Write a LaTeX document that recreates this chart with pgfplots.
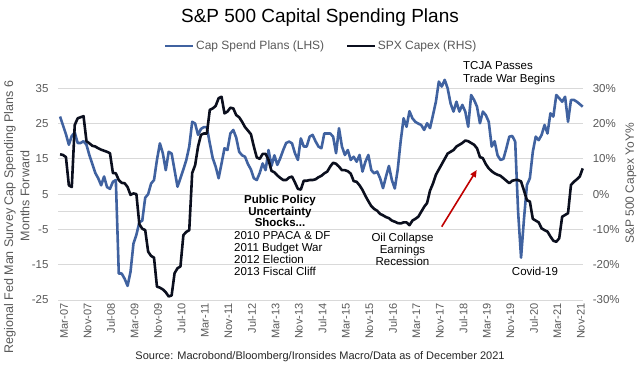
\documentclass[border=0pt]{standalone}
\usepackage{pgfplots}
\pgfplotsset{compat=1.18}
\usepackage{fontspec}
\setmainfont{Liberation Sans}
\usetikzlibrary{arrows.meta}
\definecolor{bluec}{HTML}{4062A0}
\definecolor{blackc}{HTML}{0B0F1E}
\definecolor{gridc}{HTML}{D9D9D9}
\definecolor{tickc}{HTML}{595959}
\definecolor{arrowc}{HTML}{C00000}
\begin{document}
\begin{tikzpicture}[x=1pt,y=1pt]
\useasboundingbox (0pt,0pt) rectangle (637pt,368pt);
\begin{axis}[
  at={(58pt,68pt)}, anchor=south west, scale only axis,
  width=525.3pt, height=211.7pt, clip=false,
  xmin=-0.7, xmax=178.2, ymin=-25, ymax=35,
  axis line style={draw=none}, major tick length=0pt,
  ytick={-25,-15,...,35},
  ymajorgrids, grid style={draw=gridc, line width=0.8pt},
  extra y ticks={0}, extra y tick labels={}, extra y tick style={grid=major},
  xtick={0,8,...,176},
  xticklabels={Mar-07,Nov-07,Jul-08,Mar-09,Nov-09,Jul-10,Mar-11,Nov-11,Jul-12,Mar-13,Nov-13,Jul-14,Mar-15,Nov-15,Jul-16,Mar-17,Nov-17,Jul-18,Mar-19,Nov-19,Jul-20,Mar-21,Nov-21},
  xticklabel style={rotate=90, anchor=east, font=\fontsize{11}{13}\selectfont, text=tickc, yshift=-4pt},
  yticklabel style={font=\fontsize{11.5}{13}\selectfont, text=tickc, xshift=-6pt},
  /pgf/number format/assume math mode=true,
  legend style={at={(axis description cs:0.5007,1.2)}, anchor=center, draw=none, fill=none,
    legend columns=2, font=\fontsize{12}{14}\selectfont, text=tickc,
    /tikz/every even column/.append style={column sep=20pt},
    nodes={inner sep=1.5pt}},
  legend image code/.code={\draw[#1, line width=2.6pt] (0pt,0pt) -- (28pt,0pt);},
]
\addplot[bluec, line width=2.6pt, line join=round] coordinates {
(0,27) (1,24.5) (2,22) (3,19) (4,21.5) (5,22.5) (6,19.5) (7,19.5) (8,20) (9,19)
(10,16) (11,13.5) (12,11) (13,9.5) (14,7.5) (15,10) (16,7) (17,6.5) (18,8.5) (19,9)
(20,-17.5) (21,-17.5) (22,-19) (23,-21) (24,-17) (25,-9) (26,-6.5) (27,-3) (28,-2.5) (29,4)
(30,5) (31,8) (32,9) (33,14.7) (34,19.4) (35,16.6) (36,11.8) (37,17) (38,16.5) (39,11.8)
(40,7.1) (41,9.5) (42,12) (43,14.7) (44,18.5) (45,25.5) (46,25) (47,21.8) (48,23.5) (49,24)
(50,24) (51,19.4) (52,15.2) (53,12.8) (54,9.5) (55,13.7) (56,18) (57,17.5) (58,22.2) (59,23.2)
(60,21) (61,17) (62,16) (63,15.6) (64,13.5) (65,12) (66,9.5) (67,9) (68,11) (69,13.7)
(70,11.8) (71,17.5) (72,13) (73,16) (74,13.3) (75,15.2) (76,17.5) (77,19.5) (78,19.9) (79,19.4)
(80,16.6) (81,14.7) (82,20.8) (83,18.5) (84,18.5) (85,21.3) (86,21.8) (87,20) (88,18.5) (89,18)
(90,22.2) (91,22.2) (92,22.2) (93,21.3) (94,16.6) (95,23.7) (96,18.5) (97,16.1) (98,17.5) (99,14.7)
(100,15.6) (101,14.2) (102,16.1) (103,11.4) (104,14.2) (105,16.1) (106,11.8) (107,10.9) (108,11.4) (109,9.5)
(110,6.7) (111,10) (112,13) (113,9) (114,6.6) (115,12) (116,20) (117,26.5) (118,24.1) (119,28.5)
(120,26.5) (121,25.5) (122,25) (123,24.6) (124,23.2) (125,25.1) (126,23.7) (127,27.4) (128,31.2) (129,36.9)
(130,35.5) (131,37.4) (132,35) (133,30.7) (134,28.4) (135,31.2) (136,28.4) (137,30.3) (138,28.4) (139,24.1)
(140,33.1) (141,31.7) (142,29.8) (143,25.1) (144,28.4) (145,27.4) (146,25.5) (147,18.5) (148,20) (149,16)
(150,14.7) (151,15) (152,18) (153,21.3) (154,21.5) (155,19.9) (156,0) (157,-13) (158,-2) (159,7.6)
(160,9.5) (161,17) (162,21.3) (163,20.3) (164,21.8) (165,24.6) (166,22.2) (167,27.9) (168,27) (169,33.1)
(170,32.2) (171,31.2) (172,32.6) (173,25.5) (174,31.7) (175,31.7) (176,31.2) (177,30.5) (178,29.8)
};
\addlegendentry{Cap Spend Plans (LHS)}
\addlegendimage{blackc}
\addlegendentry{SPX Capex (RHS)}
\end{axis}
\begin{axis}[
  at={(58pt,68pt)}, anchor=south west, scale only axis,
  width=525.3pt, height=211.7pt, clip=false,
  xmin=-0.7, xmax=178.2, ymin=-30, ymax=30,
  axis x line=none, axis y line*=right,
  axis line style={draw=none}, major tick length=0pt,
  ytick={-30,-20,...,30},
  yticklabel={\pgfmathprintnumber{\tick}\%},
  yticklabel style={font=\fontsize{11.5}{13}\selectfont, text=tickc, xshift=6pt},
  /pgf/number format/assume math mode=true,
]
\addplot[blackc, line width=2.6pt, line join=round] coordinates {
(0,11.3) (1,11.1) (2,10.5) (3,2.5) (4,2) (5,19.6) (6,21.5) (7,21.8) (8,22.1) (9,15)
(10,14.4) (11,13.7) (12,13.5) (13,13) (14,12.6) (15,12.3) (16,12) (17,11.6) (18,6) (19,5.9)
(20,4) (21,3.2) (22,3.1) (23,2) (24,-0.2) (25,0.2) (26,0) (27,-8.5) (28,-9.8) (29,-10.2)
(30,-16.3) (31,-17.5) (32,-18) (33,-26.2) (34,-26.5) (35,-27) (36,-27.8) (37,-29) (38,-28.7) (39,-22.4)
(40,-21) (41,-20.5) (42,-11.6) (43,-10.7) (44,-10.2) (45,6) (46,8.2) (47,13.5) (48,16.8) (49,17.2)
(50,17.2) (51,23.9) (52,24.3) (53,25) (54,27.2) (55,27.6) (56,22.9) (57,23.4) (58,24.5) (59,24.3)
(60,22.4) (61,21.8) (62,20.5) (63,19) (64,18) (65,17) (66,13.5) (67,10.4) (68,10) (69,11.4)
(70,11.4) (71,9.7) (72,6.6) (73,6.2) (74,5.3) (75,4.6) (76,4) (77,4) (78,4.7) (79,5)
(80,3.3) (81,1.5) (82,1.3) (83,3.8) (84,3.8) (85,4) (86,4) (87,4.2) (88,4.8) (89,5.2)
(90,5.9) (91,6.4) (92,7.8) (93,8.9) (94,8.6) (95,7.8) (96,6.8) (97,6.8) (98,6.5) (99,5.8)
(100,3.7) (101,3.5) (102,2.5) (103,1.2) (104,-0.5) (105,-2) (106,-3.4) (107,-4.2) (108,-4.7) (109,-5.6)
(110,-6) (111,-6.5) (112,-6.8) (113,-7.5) (114,-7.8) (115,-8.2) (116,-8.3) (117,-8) (118,-8) (119,-8.8)
(120,-7.5) (121,-7) (122,-6.4) (123,-5) (124,-3.6) (125,-2.5) (126,1) (127,3) (128,5.5) (129,7)
(130,8.5) (131,10) (132,11.5) (133,12) (134,12.5) (135,13.5) (136,14) (137,14.5) (138,15.2) (139,15)
(140,14.5) (141,14) (142,13) (143,10.5) (144,10.2) (145,8.5) (146,7.3) (147,6.5) (148,5.9) (149,5.5)
(150,5.2) (151,4.5) (152,3.8) (153,3.1) (154,3.8) (155,4) (156,4) (157,3.6) (158,1) (159,-1.7)
(160,-2.1) (161,-7) (162,-7.5) (163,-8) (164,-9.7) (165,-10.2) (166,-10.6) (167,-12) (168,-13.2) (169,-13.5)
(170,-12.5) (171,-6.4) (172,-5.9) (173,-5.4) (174,2.6) (175,3.5) (176,4.2) (177,5) (178,7.3)
};
\end{axis}
% titles and labels
\node[font=\fontsize{19}{22}\selectfont, text=black] at (320pt,350pt) {S\&P 500 Capital Spending Plans};
\node[rotate=90, font=\fontsize{12.5}{14}\selectfont, text=tickc] at (10pt,151pt) {Regional Fed Man Survey Cap Spending Plans 6};
\node[rotate=90, font=\fontsize{12.5}{14}\selectfont, text=tickc] at (25pt,172pt) {Months Forward};
\node[rotate=90, font=\fontsize{12}{14}\selectfont, text=tickc] at (631pt,184.5pt) {S\&P 500 Capex YoY\%};
\node[font=\fontsize{11}{13}\selectfont, text=black!85] at (320pt,11pt) {Source: Macrobond/Bloomberg/Ironsides Macro/Data as of December 2021};
% annotations
\begin{scope}[every node/.style={font=\fontsize{11.5}{13}\selectfont, inner sep=0pt}]
\node[anchor=base, font=\fontsize{11.5}{13}\selectfont\bfseries] at (280pt,165pt) {Public Policy};
\node[anchor=base, font=\fontsize{11.5}{13}\selectfont\bfseries] at (280pt,153pt) {Uncertainty};
\node[anchor=base, font=\fontsize{11.5}{13}\selectfont\bfseries] at (280pt,141.3pt) {Shocks...};
\node[anchor=base west] at (234pt,128.7pt) {2010 PPACA \& DF};
\node[anchor=base west] at (234pt,116.3pt) {2011 Budget War};
\node[anchor=base west] at (234pt,104.7pt) {2012 Election};
\node[anchor=base west] at (234pt,93pt) {2013 Fiscal Cliff};
\node[anchor=base] at (402.5pt,126.3pt) {Oil Collapse};
\node[anchor=base] at (402.5pt,114.7pt) {Earnings};
\node[anchor=base] at (402.5pt,103pt) {Recession};
\node[anchor=base west] at (463pt,299pt) {TCJA Passes};
\node[anchor=base west] at (463pt,286pt) {Trade War Begins};
\node[anchor=base] at (535pt,93pt) {Covid-19};
\end{scope}
\draw[arrowc, line width=1.6pt, -{Triangle[length=7pt,width=6pt]}] (441.7pt,141.3pt) -- (476.7pt,198pt);
\end{tikzpicture}
\end{document}
